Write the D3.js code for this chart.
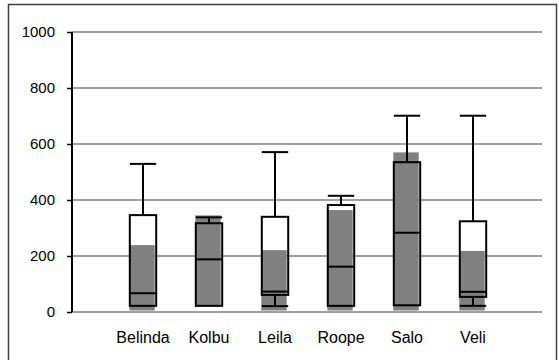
<!DOCTYPE html>
<html><head><meta charset="utf-8">
<script src="https://cdn.jsdelivr.net/npm/d3@7"></script>
<style>body{margin:0;background:#fff}svg{display:block}text{font-family:Arial,"Liberation Sans",sans-serif}</style>
</head><body><svg id="c" width="559" height="360"></svg>
<script>
const categories = ["Belinda","Kolbu","Leila","Roope","Salo","Veli"];
const meanTop   = [239, 345, 221, 364, 570, 218];
const meanBase  = [0, 22, 0, 0, 0, 0];
const minVals   = [22, 22, 21, 22, 24, 22];
const q1Vals    = [22, 22, 61, 22, 24, 54];
const medVals   = [67, 188, 73, 162, 283, 72];
const q3Vals    = [346, 317, 340, 382, 535, 324];
const maxVals   = [529, 338, 571, 415, 701, 701];
const yTicks    = [0, 200, 400, 600, 800, 1000];

const svg = d3.select("#c");
svg.append("rect").attr("x",8.5).attr("y",4.5).attr("width",548).attr("height",370)
  .attr("fill","none").attr("stroke","#404040").attr("stroke-width",1.5);

const y = d3.scaleLinear().domain([0,1000]).range([312,32]);
const x = d3.scaleBand().domain(categories).range([110,506]);
const plotL = 72, plotR = 542;

// gridlines
svg.append("g").selectAll("line").data(yTicks).join("line")
  .attr("x1",plotL).attr("x2",plotR).attr("y1",d=>y(d)).attr("y2",d=>y(d))
  .attr("stroke","#808080").attr("stroke-width",1.5);

// y axis
const ya = svg.append("g").attr("transform",`translate(${plotL},0)`)
  .call(d3.axisLeft(y).tickValues(yTicks).tickSize(5).tickPadding(12).tickFormat(d3.format("d")));
ya.select(".domain").remove();
ya.selectAll(".tick line").attr("stroke","#000").attr("stroke-width",1.5);
ya.selectAll("text").attr("font-size",15).attr("fill","#000").attr("font-family","Arial, 'Liberation Sans', sans-serif");
svg.append("line").attr("x1",plotL).attr("x2",plotL).attr("y1",y(1000)).attr("y2",y(0))
  .attr("stroke","#000").attr("stroke-width",2);

// x axis labels
const xa = svg.append("g").attr("transform",`translate(0,${y(0)})`)
  .call(d3.axisBottom(x).tickSize(0).tickPadding(20));
xa.select(".domain").remove();
xa.selectAll("text").attr("font-size",16).attr("fill","#000").attr("font-family","Arial, 'Liberation Sans', sans-serif");

const bw = x.bandwidth()*0.4;
const cx = i => x(categories[i]) + x.bandwidth()/2;
const idx = d3.range(categories.length);

// gray mean bars
svg.append("g").selectAll("rect").data(idx).join("rect")
  .attr("x",i=>cx(i)-bw/2-0.5).attr("width",bw-1)
  .attr("y",i=>y(meanTop[i])).attr("height",i=>y(meanBase[i])-y(meanTop[i]) - (meanBase[i]===0?1.5:0))
  .attr("fill","#808080");

const g = svg.append("g").attr("stroke","#000").attr("stroke-width",2).attr("fill","none");
idx.forEach(i=>{
  const c = cx(i);
  // upper whisker
  g.append("line").attr("x1",c).attr("x2",c).attr("y1",y(q3Vals[i])).attr("y2",y(maxVals[i]));
  g.append("line").attr("x1",c-bw/2).attr("x2",c+bw/2).attr("y1",y(maxVals[i])).attr("y2",y(maxVals[i]));
  // lower whisker
  if (minVals[i] < q1Vals[i]) {
    g.append("line").attr("x1",c).attr("x2",c).attr("y1",y(q1Vals[i])).attr("y2",y(minVals[i]));
    g.append("line").attr("x1",c-bw/2).attr("x2",c+bw/2).attr("y1",y(minVals[i])).attr("y2",y(minVals[i]));
  }
  // box
  g.append("rect").attr("x",c-bw/2).attr("width",bw)
    .attr("y",y(q3Vals[i])).attr("height",y(q1Vals[i])-y(q3Vals[i]));
  g.append("line").attr("x1",c-bw/2).attr("x2",c+bw/2).attr("y1",y(medVals[i])).attr("y2",y(medVals[i]));
});
</script></body></html>
